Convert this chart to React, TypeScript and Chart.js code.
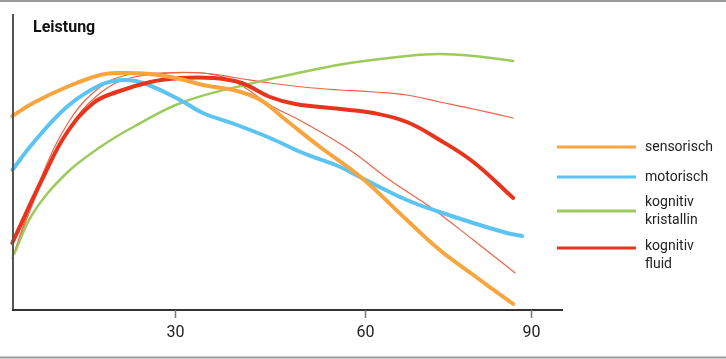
import React, { useEffect, useRef } from "react";
import { Chart, registerables } from "chart.js";

Chart.register(...registerables);

// ---- data (x = age, y = performance, arbitrary units) ----
const sensorischX = [4.3, 7.6, 12.9, 18.2, 21.5, 26.1, 30.8, 34.4, 39.8, 43.5, 47.7, 52.9, 59.5, 66.6, 71.8, 77.1, 83.4];
const sensorischY = [194, 207, 223, 235, 237, 236, 231, 225, 219, 210, 189, 163, 132, 90, 60, 35, 6];

const motorischX = [4.3, 7.6, 12.9, 18.2, 21.8, 25.0, 30.8, 34.4, 39.8, 45.0, 50.2, 56.1, 59.5, 66.6, 71.8, 77.1, 82.4, 84.8];
const motorischY = [140, 167, 203, 225, 230, 227, 210, 197, 185, 172, 157, 143, 132, 110, 98, 87, 77, 74];

const kristallinX = [4.6, 7.6, 12.9, 18.2, 23.4, 31.3, 42.3, 50.2, 57.6, 66.6, 71.8, 77.1, 83.4];
const kristallinY = [56, 97, 137, 163, 183, 208, 227, 238, 247, 254, 256, 254, 249];

const fluidX = [4.3, 9.2, 12.9, 17.1, 20.8, 26.1, 30.8, 36.0, 40.5, 45.0, 49.0, 56.1, 61.3, 66.6, 71.8, 77.1, 83.4];
const fluidY = [67, 133, 177, 207, 218, 228, 232, 232, 227, 213, 206, 201, 197, 188, 170, 148, 112];

const fluidHighX = [4.3, 8.7, 13.4, 18.2, 22.4, 27.0, 34.4, 39.8, 45.0, 50.2, 56.1, 61.3, 66.6, 71.8, 77.1, 83.4];
const fluidHighY = [52, 130, 190, 223, 235, 237, 237, 232, 227, 223, 220, 218, 215, 208, 201, 192];

const fluidLowX = [4.3, 8.7, 13.4, 18.2, 22.9, 29.2, 35.5, 39.8, 45.0, 50.2, 57.6, 63.9, 70.3, 77.1, 83.7];
const fluidLowY = [52, 124, 183, 217, 232, 237, 236, 227, 205, 188, 160, 130, 103, 70, 37];

// axis ticks (position on the age scale, and printed label)
const tickValues = [30, 60, 86.2];
const tickLabels = ["30", "60", "90"];

const xMin = 4.26;
const xMax = 91.26;
const yMin = 0;
const yMax = 296;

const title = "Leistung";
const legendLabels = [["sensorisch"], ["motorisch"], ["kognitiv", "kristallin"], ["kognitiv", "fluid"]];

const COLORS = {
  orange: "#F8A53F",
  blue: "#5CC4F0",
  green: "#9CCB5C",
  red: "#E7351D",
  thin: "#EE6247",
};

const legendColors = [COLORS.orange, COLORS.blue, COLORS.green, COLORS.red];

function pts(xs: number[], ys: number[]) {
  return xs.map((x, i) => ({ x, y: ys[i] }));
}

const overlayPlugin = {
  id: "overlay",
  afterDraw(chart: any) {
    const ctx = chart.ctx as CanvasRenderingContext2D;
    const { left, right, top, bottom } = chart.chartArea;
    const xs = chart.scales.x;
    const W = chart.width;
    ctx.save();
    // frame lines
    ctx.strokeStyle = "#9a9a9a";
    ctx.lineWidth = 2;
    ctx.beginPath();
    ctx.moveTo(0, 1);
    ctx.lineTo(W, 1);
    ctx.moveTo(0, 357.5);
    ctx.lineTo(W, 357.5);
    ctx.stroke();
    // y axis
    ctx.strokeStyle = "#555";
    ctx.lineWidth = 2;
    ctx.beginPath();
    ctx.moveTo(left + 1, top);
    ctx.lineTo(left + 1, bottom + 1);
    ctx.stroke();
    // x axis
    ctx.strokeStyle = "#333";
    ctx.beginPath();
    ctx.moveTo(left, bottom);
    ctx.lineTo(right, bottom);
    ctx.stroke();
    // ticks
    ctx.strokeStyle = "#777";
    ctx.lineWidth = 1.5;
    ctx.fillStyle = "#222";
    ctx.font = "16px Roboto";
    ctx.textAlign = "center";
    ctx.textBaseline = "middle";
    tickValues.forEach((v, i) => {
      const px = Math.round(xs.getPixelForValue(v)) + 0.5;
      ctx.beginPath();
      ctx.moveTo(px, bottom);
      ctx.lineTo(px, bottom + 8);
      ctx.stroke();
      ctx.fillText(tickLabels[i], px, bottom + 23);
    });
    // title
    ctx.font = "bold 16px Roboto";
    ctx.textAlign = "left";
    ctx.textBaseline = "alphabetic";
    ctx.fillStyle = "#111";
    ctx.fillText(title, left + 21, 32);
    // legend
    const lx0 = right - 6;
    const lx1 = right + 73;
    const tx = right + 82;
    const lineYs = [147, 177, 211, 248];
    const textTops = [147, 177, 202, 246];
    ctx.font = "14px Roboto";
    ctx.textBaseline = "middle";
    legendLabels.forEach((lines, i) => {
      ctx.strokeStyle = legendColors[i];
      ctx.lineWidth = 3;
      ctx.beginPath();
      ctx.moveTo(lx0, lineYs[i]);
      ctx.lineTo(lx1, lineYs[i]);
      ctx.stroke();
      ctx.fillStyle = "#222";
      lines.forEach((t, j) => {
        ctx.fillText(t, tx, textTops[i] + j * 18);
      });
    });
    ctx.restore();
  },
};

export default function App() {
  const ref = useRef<HTMLCanvasElement | null>(null);
  useEffect(() => {
    document.body.style.margin = "0";
    const canvas = ref.current;
    if (!canvas) return;
    const common = {
      fill: false,
      pointRadius: 0,
      pointHoverRadius: 0,
      tension: 0.4,
      borderCapStyle: "round" as const,
      borderJoinStyle: "round" as const,
      clip: false as any,
    };
    const chart = new Chart(canvas, {
      type: "line",
      data: {
        datasets: [
          { ...common, label: "sensorisch", data: pts(sensorischX, sensorischY), borderColor: COLORS.orange, borderWidth: 4, order: 1 },
          { ...common, label: "kognitiv fluid", data: pts(fluidX, fluidY), borderColor: COLORS.red, borderWidth: 4, order: 2 },
          { ...common, label: "motorisch", data: pts(motorischX, motorischY), borderColor: COLORS.blue, borderWidth: 4, order: 3 },
          { ...common, label: "kognitiv kristallin", data: pts(kristallinX, kristallinY), borderColor: COLORS.green, borderWidth: 2.5, order: 4 },
          { ...common, label: "fluid hoch", data: pts(fluidHighX, fluidHighY), borderColor: COLORS.thin, borderWidth: 1.2, order: 5 },
          { ...common, label: "fluid tief", data: pts(fluidLowX, fluidLowY), borderColor: COLORS.thin, borderWidth: 1.2, order: 6 },
        ],
      },
      options: {
        animation: false,
        responsive: true,
        maintainAspectRatio: false,
        layout: { padding: { left: 12, top: 14, right: 163, bottom: 49 } },
        plugins: { legend: { display: false }, tooltip: { enabled: false } },
        scales: {
          x: { type: "linear", min: xMin, max: xMax, display: false },
          y: { type: "linear", min: yMin, max: yMax, display: false },
        },
      },
      plugins: [overlayPlugin],
    });
    return () => chart.destroy();
  }, []);
  return (
    <div style={{ width: 726, height: 359, position: "relative", background: "#fff" }}>
      <canvas ref={ref} />
    </div>
  );
}
